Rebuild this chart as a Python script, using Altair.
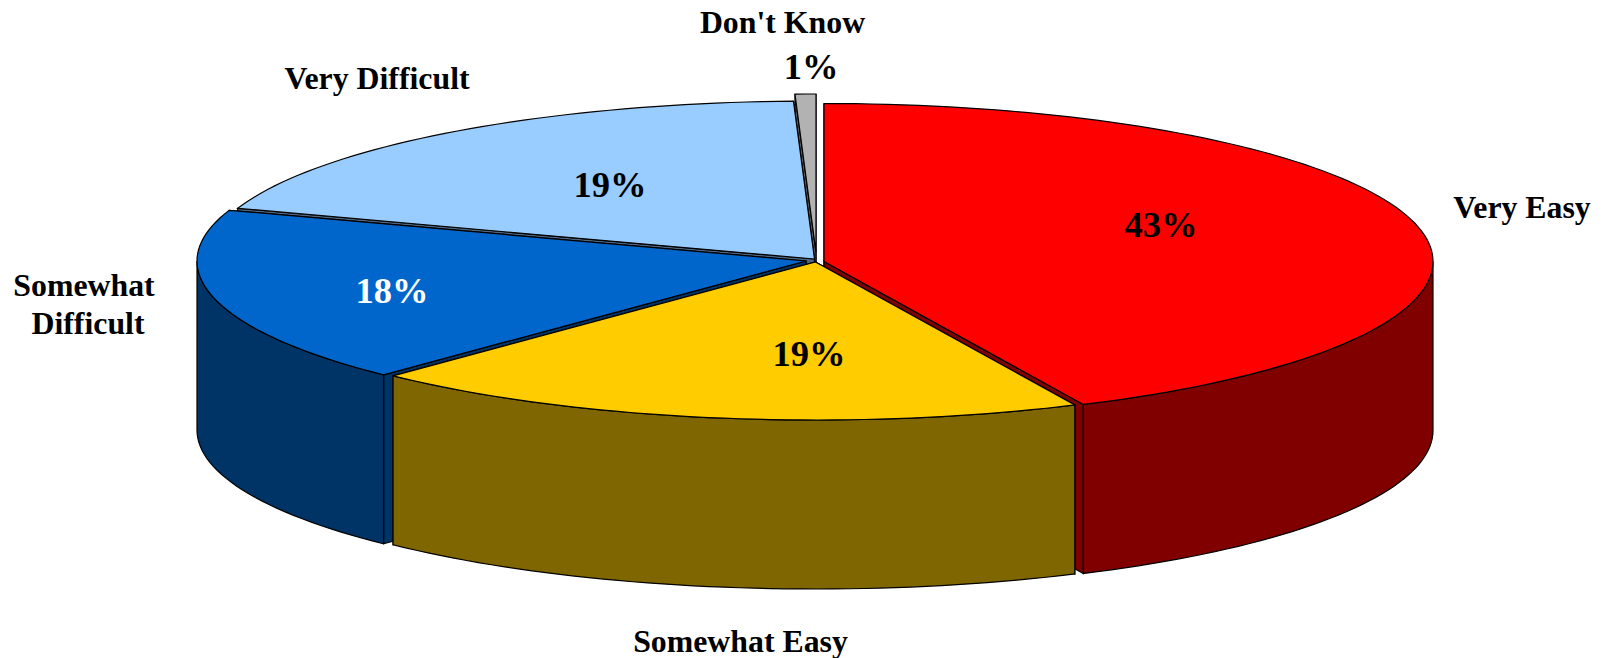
import math
import altair as alt

# --- data ---
categories = ["Very Easy", "Somewhat Easy", "Somewhat Difficult", "Very Difficult", "Don't Know"]
shares = [43.0, 19.2, 18.0, 19.25, 0.55]
top_colors = ["#FF0000", "#FFCC00", "#0066CC", "#99CCFF", "#B2B2B2"]
wall_colors = ["#800000", "#806600", "#003366", "#4D6680", "#595959"]

# --- projection of the tilted disc (page pixels) ---
OX, OY = 8, 8
W, H = 1590, 650
RX, RY, DEPTH = 609, 158, 169
apex = {
    "Very Easy": (824, 261.5),
    "Somewhat Easy": (815.5, 262),
    "Somewhat Difficult": (806, 261),
    "Very Difficult": (814.5, 259),
    "Don't Know": (816, 252),
}
paint_order = ["Don't Know", "Very Difficult", "Somewhat Difficult", "Very Easy", "Somewhat Easy"]


def rim(cx, cy, a, b):
    n = max(2, int(abs(b - a) / 1.5) + 2)
    out = []
    for i in range(n):
        t = math.radians(a + (b - a) * i / (n - 1))
        out.append((cx + RX * math.sin(t) - OX, cy - RY * math.cos(t) - OY))
    return out


def poly(points, fill, name):
    ring = [list(p) for p in points] + [list(points[0])]
    return {"type": "Feature", "geometry": {"type": "Polygon", "coordinates": [ring]},
            "properties": {"fill": fill, "name": name}}


angles = {}
acc = 0.0
for c, s in zip(categories, shares):
    angles[c] = (acc * 3.6, (acc + s) * 3.6)
    acc += s

features = []
for c in paint_order:
    i = categories.index(c)
    a, b = angles[c]
    cx, cy = apex[c]
    ax, ay = cx - OX, cy - OY
    # flat side walls: the one further back first
    ends = sorted([a, b], key=lambda t: math.cos(math.radians(t)), reverse=True)
    for t in ends:
        p = rim(cx, cy, t, t)[0]
        features.append(poly([(ax, ay), p, (p[0], p[1] + DEPTH), (ax, ay + DEPTH)], wall_colors[i], c))
    # curved wall, front half only
    lo, hi = max(a, 90), min(b, 270)
    if lo < hi:
        up = rim(cx, cy, lo, hi)
        down = [(x, y + DEPTH) for x, y in reversed(up)]
        features.append(poly(up + down, wall_colors[i], c))
    # top face
    features.append(poly([(ax, ay)] + rim(cx, cy, a, b), top_colors[i], c))

shapes = alt.Chart(
    alt.InlineData(values={"type": "FeatureCollection", "features": features},
                   format=alt.JsonDataFormat(type="json", property="features"))
).mark_geoshape(stroke="black", strokeWidth=1.2, strokeJoin="miter").encode(
    color=alt.Color("properties.fill:N", scale=None, legend=None)
).project(type="identity", scale=1, translate=[0, 0])

# --- labels ---
name_lines = ["Very Easy", "Somewhat Easy", "Somewhat", "Difficult", "Very Difficult", "Don't Know"]
name_x = [1522, 740.5, 84, 88, 377, 782.5]
name_y = [208, 642, 286, 323.5, 79, 22.5]
pct_text = ["43%", "19%", "18%", "19%", "1%"]
pct_x = [1161, 809, 392, 610, 811]
pct_y = [226, 355, 292, 186, 67.5]
pct_color = ["black", "black", "white", "black", "black"]

xs = alt.X("x:Q", scale=alt.Scale(domain=[OX, OX + W], range=[0, W], nice=False, zero=False), axis=None)
ys = alt.Y("y:Q", scale=alt.Scale(domain=[OY, OY + H], range=[0, H], nice=False, zero=False), axis=None)

names = alt.Chart(alt.Data(values=[
    {"t": t, "x": x, "y": y} for t, x, y in zip(name_lines, name_x, name_y)
])).mark_text(font="Liberation Serif", fontWeight="bold", fontSize=31.8, color="black").encode(
    x=xs, y=ys, text="t:N")

pcts = alt.Chart(alt.Data(values=[
    {"t": t, "x": x, "y": y, "c": c} for t, x, y, c in zip(pct_text, pct_x, pct_y, pct_color)
])).mark_text(font="Liberation Serif", fontWeight="bold", fontSize=36.5).encode(
    x=xs, y=ys, text="t:N", color=alt.Color("c:N", scale=None, legend=None))

chart = alt.layer(shapes, names, pcts).resolve_scale(color="independent").properties(
    width=W, height=H, padding=0, autosize=alt.AutoSizeParams(type="none"), background="white"
).configure_view(stroke=None)

chart.save("out.html", embed_options={"renderer": "svg", "actions": False})
